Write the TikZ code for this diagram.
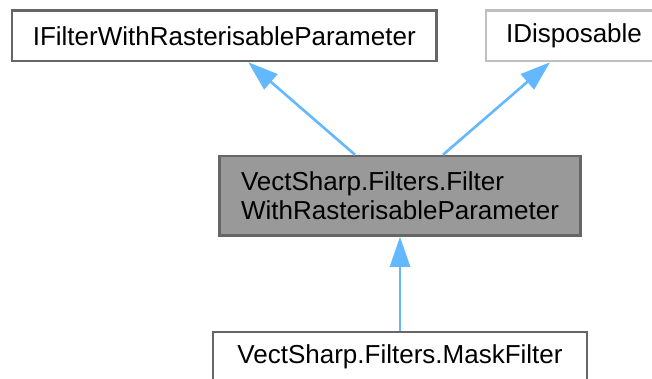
\documentclass[tikz,border=0pt]{standalone}
\usepackage{fontspec}
\setmainfont{Liberation Sans}
\usetikzlibrary{arrows.meta}
\definecolor{edgeblue}{HTML}{63B8FF}
\definecolor{boxborder}{HTML}{666666}
\definecolor{lightborder}{HTML}{BFBFBF}
\definecolor{boxfill}{HTML}{999999}
\tikzset{
  classbox/.style={draw=boxborder, line width=2.5pt, fill=white, inner sep=0pt,
    font=\fontsize{26}{29}\selectfont, align=left},
  inherit/.style={draw=edgeblue, line width=2.6pt,
    -{Triangle[length=30pt,width=20pt]}},
}
\begin{document}
\begin{tikzpicture}[x=1pt,y=-1pt]
\useasboundingbox (0,0) rectangle (652,378);
\node[classbox, minimum width=424.5pt, minimum height=50.5pt] (A) at (224.25,35.75) {IFilterWithRasterisableParameter};
\node[classbox, draw=lightborder, minimum width=176pt, minimum height=50.5pt] (B) at (574,35.75) {IDisposable};
\node[classbox, fill=boxfill, minimum width=361pt, minimum height=79.5pt] (C) at (400,195.75) {VectSharp.Filters.Filter\\WithRasterisableParameter};
\node[classbox, minimum width=374pt, minimum height=50.5pt] (D) at (400,357.25) {VectSharp.Filters.MaskFilter};
\draw[inherit] ([xshift=-45pt]C.north) -- ([xshift=24pt]A.south);
\draw[inherit] ([xshift=43pt]C.north) -- ([xshift=-24pt]B.south);
\draw[inherit] (D.north) -- (C.south);
\end{tikzpicture}
\end{document}
